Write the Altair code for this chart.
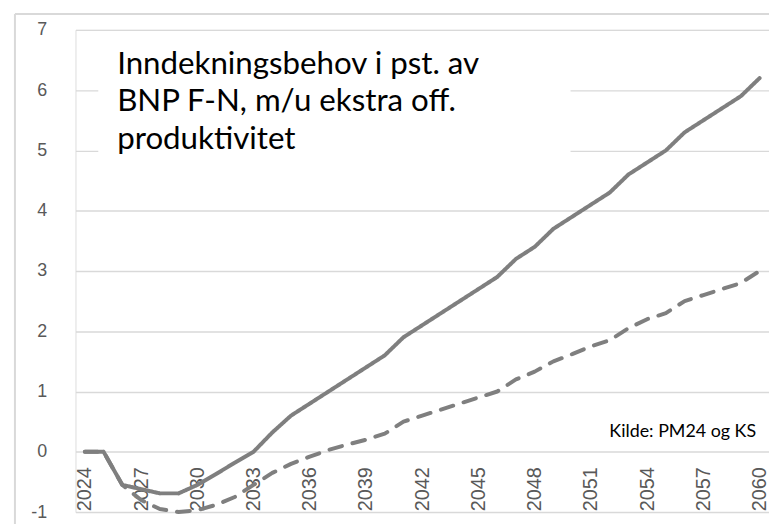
import altair as alt
import pandas as pd

years = list(range(2024, 2061))
solid = [0, 0, -0.55, -0.62, -0.69, -0.69, -0.55, -0.37, -0.18, 0.0,
         0.32, 0.6, 0.8, 1.0, 1.2, 1.4, 1.6, 1.9, 2.1, 2.3,
         2.5, 2.7, 2.9, 3.2, 3.4, 3.7, 3.9, 4.1, 4.3, 4.6,
         4.8, 5.0, 5.3, 5.5, 5.7, 5.9, 6.2]
dashed = [0, 0, -0.55, -0.8, -0.95, -1.0, -0.97, -0.88, -0.75, -0.55,
          -0.35, -0.2, -0.08, 0.03, 0.12, 0.2, 0.3, 0.5, 0.6, 0.7,
          0.8, 0.9, 1.0, 1.2, 1.33, 1.5, 1.62, 1.75, 1.85, 2.05,
          2.2, 2.3, 2.5, 2.6, 2.7, 2.8, 3.0]
series_names = ["Uten ekstra off. produktivitet", "Med ekstra off. produktivitet"]
x_ticks = list(range(2024, 2061, 3))
y_ticks = list(range(-1, 8))
title_lines = ["Inndekningsbehov i pst. av", "BNP F-N, m/u ekstra off.", "produktivitet"]
source_text = "Kilde: PM24 og KS"

W, H = 699, 486
GREY_LINE = "#7f7f7f"
GRID = "#d9d9d9"

df = pd.DataFrame({
    "year": years * 2,
    "value": solid + dashed,
    "series": [series_names[0]] * len(years) + [series_names[1]] * len(years),
})

xscale = alt.Scale(domain=[2023.5, 2060.5], nice=False, zero=False)
yscale = alt.Scale(domain=[-1, 7], nice=False, zero=False)

xaxis = alt.Axis(values=x_ticks, format="d", labelAngle=270, labelFontSize=20,
                 labelFont="Liberation Sans", labelColor="#595959", domain=False,
                 ticks=False, tickSize=0, grid=False, labelPadding=15,
                 offset=-H / 8.0, title=None, labelOverlap=False)
yaxis = alt.Axis(values=y_ticks, labelExpr="'' + datum.value", labelFontSize=18,
                 labelFont="Liberation Sans",
                 labelColor="#595959", domain=False, ticks=False, tickSize=0,
                 grid=True, gridColor=GRID, gridWidth=1.4, labelPadding=29, title=None)

lines = alt.Chart(df).mark_line(strokeWidth=4, color=GREY_LINE, strokeCap="round",
                                strokeJoin="round", clip=False).encode(
    x=alt.X("year:Q", scale=xscale, axis=xaxis),
    y=alt.Y("value:Q", scale=yscale, axis=yaxis),
    strokeDash=alt.StrokeDash("series:N", scale=alt.Scale(domain=series_names,
                              range=[[1, 0], [13, 11]]), legend=None),
    detail="series:N",
)

# white box behind the annotation (hides gridlines like the text box in the original)
box = alt.Chart(pd.DataFrame({"a": [0]})).mark_rect(color="white").encode(
    x=alt.value(23), x2=alt.value(499), y=alt.value(20), y2=alt.value(160))

tdf = pd.DataFrame({"line": title_lines, "i": list(range(len(title_lines)))})
title = alt.Chart(tdf).mark_text(align="left", baseline="middle", fontSize=31.5,
                                 font="Lato", color="black").encode(
    x=alt.value(42),
    y=alt.Y("i:O", scale=alt.Scale(type="point", range=[35, 111], padding=0), axis=None),
    text="line:N",
)

source = alt.Chart(pd.DataFrame({"t": [source_text]})).mark_text(
    align="right", baseline="middle", fontSize=18, font="Lato", color="black").encode(
    x=alt.value(686), y=alt.value(405), text="t:N")

frame_v = alt.Chart(pd.DataFrame({"a": [0]})).mark_rule(color=GRID, strokeWidth=2).encode(
    x=alt.value(-61), y=alt.value(-16), y2=alt.value(H + 30))
frame_h = alt.Chart(pd.DataFrame({"a": [0]})).mark_rule(color=GRID, strokeWidth=2).encode(
    x=alt.value(-61), x2=alt.value(W + 20), y=alt.value(-16))

chart = alt.layer(frame_v, frame_h, lines, box, title, source).properties(
    width=W, height=H,
    autosize=alt.AutoSizeParams(type="none"),
    padding={"left": 68, "top": 20, "right": 0, "bottom": 10},
).configure_view(stroke=None).configure(background="white")

chart.save("out.html", embed_options={"renderer": "svg", "actions": False})
